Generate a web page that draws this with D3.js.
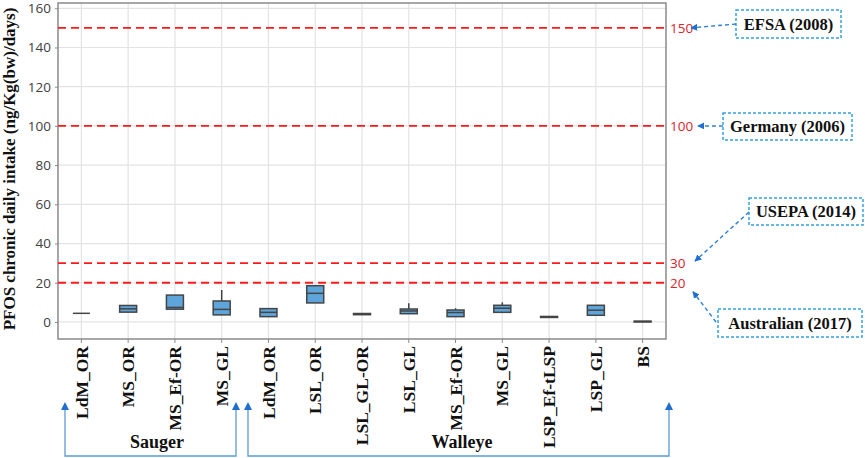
<!DOCTYPE html>
<html><head><meta charset="utf-8">
<script src="https://cdn.jsdelivr.net/npm/d3@7"></script>
<style>body{margin:0;background:#fff}svg{display:block}</style>
</head><body>
<svg id="c" width="865" height="458"></svg>
<script>
// ---- data ----
const categories = ["LdM_OR","MS_OR","MS_Ef-OR","MS_GL","LdM_OR","LSL_OR","LSL_GL-OR","LSL_GL","MS_Ef-OR","MS_GL","LSP_Ef-tLSP","LSP_GL","BS"];
const groups = ["Sauger","Sauger","Sauger","Sauger","Walleye","Walleye","Walleye","Walleye","Walleye","Walleye","Walleye","Walleye","Walleye"];
const mins    = [4.4, 5.0, 6.5, 3.6, 2.7, 9.7, 3.7, 4.2, 2.7, 4.9, 2.3, 3.4, 0.0];
const q1s     = [4.4, 5.0, 6.5, 3.6, 2.7, 9.7, 3.7, 4.2, 2.7, 4.9, 2.3, 3.4, 0.0];
const medians = [4.4, 6.7, 7.4, 6.4, 4.9, 14.6, 4.0, 5.6, 4.8, 7.0, 2.6, 6.0, 0.2];
const q3s     = [4.4, 8.4, 13.7, 10.7, 6.8, 18.5, 4.3, 6.6, 6.1, 8.5, 2.8, 8.5, 0.4];
const maxs    = [4.4, 8.4, 13.7, 16.3, 6.8, 18.5, 4.3, 9.5, 7.0, 10.0, 2.8, 8.5, 0.4];
const yTicks  = [0,20,40,60,80,100,120,140,160];
const thresholds = [150, 100, 30, 20];
const agencies = ["EFSA (2008)", "Germany (2006)", "USEPA (2014)", "Australian (2017)"];
const yTitle = "PFOS chronic daily intake (ng/Kg(bw)/days)";

// ---- layout ----
const svg = d3.select("#c");
const L = 58, R = 666, T = 3, B = 339;
const x = d3.scaleBand().domain(d3.range(categories.length)).range([L, R]).padding(0);
const y = d3.scaleLinear().domain([-8.7, 162.7]).range([B, T]);
const serif = "'Liberation Serif','Times New Roman',serif";
const sans = "'Open Sans','Noto Sans',sans-serif";

const defs = svg.append("defs");
defs.append("marker").attr("id","ah").attr("viewBox","0 0 10 10").attr("refX",9).attr("refY",5)
  .attr("markerWidth",7).attr("markerHeight",7).attr("markerUnits","userSpaceOnUse").attr("orient","auto")
  .append("path").attr("d","M0,0L10,5L0,10Z").attr("fill","#1f6fd0");

// grid
const g = svg.append("g");
g.selectAll("line.hg").data(yTicks).join("line")
  .attr("x1",L).attr("x2",R).attr("y1",d=>y(d)).attr("y2",d=>y(d))
  .attr("stroke","#e3e3e3").attr("stroke-width",1.2);
g.selectAll("line.vg").data(d3.range(categories.length)).join("line")
  .attr("x1",d=>x(d)+x.bandwidth()/2).attr("x2",d=>x(d)+x.bandwidth()/2).attr("y1",T).attr("y2",B)
  .attr("stroke","#e3e3e3").attr("stroke-width",1.2);

// frame
svg.append("rect").attr("x",L).attr("y",T).attr("width",R-L).attr("height",B-T)
  .attr("fill","none").attr("stroke","#8a8a8a").attr("stroke-width",1.5);

// y axis
const ya = svg.append("g").attr("transform",`translate(${L},0)`)
  .call(d3.axisLeft(y).tickValues(yTicks).tickSize(3).tickPadding(4));
ya.select(".domain").remove();
ya.selectAll(".tick line").attr("stroke","#8a8a8a");
ya.selectAll(".tick text").attr("font-family",sans).attr("font-size",13.5).attr("fill","#404040");

// x axis
const xa = svg.append("g").attr("transform",`translate(0,${B})`)
  .call(d3.axisBottom(x).tickFormat(i=>categories[i]).tickSize(4).tickPadding(5));
xa.select(".domain").remove();
xa.selectAll(".tick line").attr("stroke","#8a8a8a");
xa.selectAll(".tick text").attr("font-family",serif).attr("font-weight","bold").attr("font-size",17.5)
  .attr("fill","#111").attr("transform","rotate(-90)").attr("text-anchor","end")
  .attr("x",-7).attr("y",0).attr("dy","0.35em");

// y title
svg.append("text").attr("transform",`translate(15,${(T+B)/2 - 2}) rotate(-90)`)
  .attr("text-anchor","middle").attr("font-family",serif).attr("font-weight","bold").attr("font-size",17)
  .attr("fill","#111").text(yTitle);

// threshold lines
svg.selectAll("line.th").data(thresholds).join("line")
  .attr("x1",L).attr("x2",R).attr("y1",d=>y(d)).attr("y2",d=>y(d))
  .attr("stroke","#ff1a1a").attr("stroke-width",1.8).attr("stroke-dasharray","8,5");
svg.selectAll("text.th").data(thresholds).join("text")
  .attr("x",R+4).attr("y",d=>y(d)).attr("dy","0.36em")
  .attr("font-family",sans).attr("font-size",13.5).attr("fill","#d9262b").text(d=>d);

// boxes
const bw = 17;
const boxes = svg.append("g").selectAll("g").data(d3.range(categories.length)).join("g")
  .attr("transform",i=>`translate(${x(i)+x.bandwidth()/2},0)`);
boxes.append("line").attr("y1",i=>y(q3s[i])).attr("y2",i=>y(maxs[i])).attr("stroke","#404040").attr("stroke-width",1.5);
boxes.append("line").attr("y1",i=>y(q1s[i])).attr("y2",i=>y(mins[i])).attr("stroke","#404040").attr("stroke-width",1.5);
boxes.append("rect").attr("x",-bw/2).attr("width",bw).attr("y",i=>y(q3s[i])).attr("height",i=>y(q1s[i])-y(q3s[i]))
  .attr("fill","#5da5da").attr("stroke","#454545").attr("stroke-width",1.5);
boxes.append("line").attr("x1",-bw/2).attr("x2",bw/2).attr("y1",i=>y(medians[i])).attr("y2",i=>y(medians[i]))
  .attr("stroke","#454545").attr("stroke-width",1.5);

// annotation boxes
const ann = [
  {bx:736, by:10, bw:105, bh:28, sx:736, sy:24, tx:R+25, ty:y(thresholds[0])},
  {bx:723, by:113, bw:129, bh:27, sx:723, sy:126, tx:R+32, ty:y(thresholds[1])},
  {bx:749, by:198, bw:114, bh:27, sx:749, sy:212, tx:R+29, ty:y(thresholds[2])-2},
  {bx:718, by:309, bw:144, bh:28, sx:716, sy:322, tx:R+27, ty:y(thresholds[3])+9}
];
const ag = svg.append("g");
ann.forEach((a,i)=>{
  ag.append("rect").attr("x",a.bx).attr("y",a.by).attr("width",a.bw).attr("height",a.bh)
    .attr("fill","#fff").attr("stroke","#35a2e0").attr("stroke-width",1.5).attr("stroke-dasharray","3,2");
  ag.append("text").attr("x",a.bx+a.bw/2).attr("y",a.by+a.bh/2).attr("dy","0.35em").attr("text-anchor","middle")
    .attr("font-family",serif).attr("font-weight","bold").attr("font-size",16.5).attr("fill","#111").text(agencies[i]);
  ag.append("line").attr("x1",a.sx).attr("y1",a.sy).attr("x2",a.tx).attr("y2",a.ty)
    .attr("stroke","#2f7fd6").attr("stroke-width",1.4).attr("stroke-dasharray","4,3").attr("marker-end","url(#ah)");
});

// group brackets
const uniq = ["Sauger","Walleye"];
const br = [
  {x1:65, x2:236, lx:157},
  {x1:248, x2:669, lx:462}
];
uniq.forEach((gname,i)=>{
  const b = br[i];
  svg.append("path").attr("d",`M${b.x1},404 L${b.x1},456 L${b.x2},456 L${b.x2},404`)
    .attr("fill","none").attr("stroke","#5b9bd5").attr("stroke-width",1.3);
  svg.append("path").attr("d",`M${b.x1-4},410 L${b.x1},402 L${b.x1+4},410Z`).attr("fill","#1f6fd0");
  svg.append("path").attr("d",`M${b.x2-4},410 L${b.x2},402 L${b.x2+4},410Z`).attr("fill","#1f6fd0");
  svg.append("text").attr("x",b.lx).attr("y",448).attr("text-anchor","middle")
    .attr("font-family",serif).attr("font-weight","bold").attr("font-size",18).attr("fill","#111").text(gname);
});
</script>
</body></html>
